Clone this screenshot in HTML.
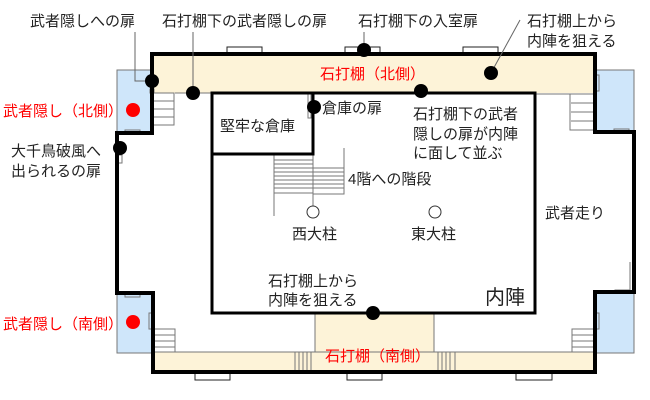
<!DOCTYPE html>
<html><head><meta charset="utf-8"><style>
html,body{margin:0;padding:0;background:#fff;}
svg{display:block;}
text{font-family:"Liberation Sans","Noto Sans CJK JP",sans-serif;font-size:15px;fill:#222;}
.r{fill:#f00;font-size:14px;}
</style></head><body>
<svg width="650" height="400" viewBox="0 0 650 400" xmlns="http://www.w3.org/2000/svg">
<rect x="152" y="54" width="443" height="39" fill="#fdf3d8"/>
<rect x="153" y="352" width="442" height="20" fill="#fdf3d8"/>
<rect x="315" y="313" width="119" height="40" fill="#fdf3d8"/>
<rect x="117" y="70" width="35" height="63" fill="#cfe6fa" stroke="#777" stroke-width="1"/>
<rect x="595" y="70" width="39" height="62" fill="#cfe6fa" stroke="#777" stroke-width="1"/>
<rect x="117" y="293" width="36" height="60" fill="#cfe6fa" stroke="#777" stroke-width="1"/>
<rect x="595" y="292" width="39" height="61" fill="#cfe6fa" stroke="#777" stroke-width="1"/>
<g stroke="#777" stroke-width="1" fill="none">
<line x1="175" y1="93" x2="211" y2="93"/>
<line x1="535" y1="94" x2="595" y2="94"/>
<line x1="315" y1="313" x2="315" y2="352"/>
<line x1="434" y1="313" x2="434" y2="352"/>
<line x1="153" y1="352" x2="595" y2="352"/>
<line x1="630" y1="262" x2="630" y2="290"/>
<rect x="150" y="89" width="4" height="4"/>
<rect x="125" y="130" width="15" height="4"/>
<rect x="125" y="293" width="15" height="4"/>
<rect x="149" y="313" width="4" height="16"/>
<rect x="595" y="75" width="4" height="16"/>
<rect x="595" y="313" width="4" height="16"/>
<rect x="615" y="290" width="15" height="3"/>
<rect x="614" y="129" width="15" height="4"/>
<rect x="118" y="155" width="4" height="8"/>
<rect x="308" y="93" width="3" height="25"/>
</g>
<g stroke="#777" stroke-width="1" fill="#fff">
<rect x="153" y="93" width="21" height="32"/>
<rect x="570" y="94" width="24" height="36"/>
<rect x="153" y="329" width="22" height="23"/>
<rect x="572" y="329" width="22" height="23"/>
<rect x="274" y="155" width="39" height="38" fill="none"/>
<rect x="313" y="168" width="31" height="26" fill="none"/>
</g>
<g stroke="#777" stroke-width="1">
<line x1="154" y1="101" x2="174" y2="101"/><line x1="154" y1="109" x2="174" y2="109"/><line x1="154" y1="117" x2="174" y2="117"/>
<line x1="571" y1="103" x2="594" y2="103"/><line x1="571" y1="112" x2="594" y2="112"/><line x1="571" y1="121" x2="594" y2="121"/>
<line x1="154" y1="335" x2="175" y2="335"/><line x1="154" y1="341" x2="175" y2="341"/><line x1="154" y1="347" x2="175" y2="347"/>
<line x1="572" y1="335" x2="594" y2="335"/><line x1="572" y1="341" x2="594" y2="341"/><line x1="572" y1="347" x2="594" y2="347"/>
<line x1="274" y1="160" x2="313" y2="160"/><line x1="274" y1="164" x2="313" y2="164"/><line x1="274" y1="168" x2="313" y2="168"/><line x1="274" y1="172" x2="313" y2="172"/><line x1="274" y1="176" x2="313" y2="176"/><line x1="274" y1="180" x2="313" y2="180"/><line x1="274" y1="184" x2="313" y2="184"/><line x1="274" y1="188" x2="313" y2="188"/>
<line x1="274" y1="155" x2="274" y2="216"/><line x1="313" y1="155" x2="313" y2="206"/><line x1="344" y1="148" x2="344" y2="194"/>
<line x1="313" y1="172" x2="344" y2="172"/><line x1="313" y1="176" x2="344" y2="176"/><line x1="313" y1="180" x2="344" y2="180"/><line x1="313" y1="184" x2="344" y2="184"/><line x1="313" y1="188" x2="344" y2="188"/>
<line x1="295" y1="352" x2="295" y2="372"/><line x1="299" y1="352" x2="299" y2="372"/><line x1="303" y1="352" x2="303" y2="372"/><line x1="307" y1="352" x2="307" y2="372"/><line x1="311" y1="352" x2="311" y2="372"/>
<line x1="438" y1="352" x2="438" y2="372"/><line x1="442" y1="352" x2="442" y2="372"/><line x1="446" y1="352" x2="446" y2="372"/><line x1="450" y1="352" x2="450" y2="372"/><line x1="455" y1="352" x2="455" y2="372"/>
</g>
<g stroke="#222" stroke-width="1" fill="#fff">
<rect x="227" y="47" width="35" height="7"/>
<rect x="345" y="47" width="35" height="7"/>
<rect x="463" y="47" width="35" height="7"/>
<rect x="195" y="372" width="35" height="8"/>
<rect x="347" y="372" width="35" height="8"/>
<rect x="516" y="372" width="36" height="8"/>
</g>
<path d="M152 54 H595 V132 H634 V292 H595 V372 H153 V293 H117 V133 H152 Z" fill="none" stroke="#000" stroke-width="4"/>
<rect x="212" y="93" width="323" height="220" fill="none" stroke="#000" stroke-width="3"/>
<rect x="212" y="93" width="101" height="61" fill="none" stroke="#000" stroke-width="3"/>
<circle cx="313" cy="212" r="6" fill="#fff" stroke="#333"/>
<circle cx="435" cy="212" r="6" fill="#fff" stroke="#333"/>
<g stroke="#666" stroke-width="1" fill="none">
<polyline points="135,32 135,81 152,81"/>
<line x1="193" y1="32" x2="193" y2="93"/>
<line x1="364" y1="32" x2="364" y2="50"/>
<line x1="520" y1="20" x2="491" y2="73"/>
</g>
<g fill="#000">
<circle cx="152" cy="81" r="7"/><circle cx="193" cy="93" r="7"/><circle cx="364" cy="50" r="7"/>
<circle cx="491" cy="73" r="7"/><circle cx="421" cy="91" r="7"/><circle cx="314" cy="107" r="7"/>
<circle cx="120" cy="148" r="7"/><circle cx="373" cy="313" r="7"/>
</g>
<circle cx="133" cy="110" r="7" fill="#f00"/>
<circle cx="133" cy="322" r="7" fill="#f00"/>
<text x="30" y="26">武者隠しへの扉</text>
<text x="162" y="26">石打棚下の武者隠しの扉</text>
<text x="358" y="26">石打棚下の入室扉</text>
<text x="527" y="26">石打棚上から</text>
<text x="527" y="46">内陣を狙える</text>
<text x="320" y="79" class="r" style="font-size:15px">石打棚（北側）</text>
<text x="3" y="116" class="r" style="font-size:15px">武者隠し（北側）</text>
<text x="11" y="156">大千鳥破風へ</text>
<text x="11" y="176">出られるの扉</text>
<text x="220" y="131">堅牢な倉庫</text>
<text x="322" y="113">倉庫の扉</text>
<text x="413" y="119">石打棚下の武者</text>
<text x="413" y="139">隠しの扉が内陣</text>
<text x="413" y="158">に面して並ぶ</text>
<text x="348" y="184">4階への階段</text>
<text x="292" y="239">西大柱</text>
<text x="411" y="239">東大柱</text>
<text x="545" y="218">武者走り</text>
<text x="268" y="286">石打棚上から</text>
<text x="268" y="305">内陣を狙える</text>
<text x="485" y="304" style="font-size:20px">内陣</text>
<text x="3" y="329" class="r" style="font-size:15px">武者隠し（南側）</text>
<text x="325" y="361" class="r" style="font-size:15px">石打棚（南側）</text>
</svg>
</body></html>
